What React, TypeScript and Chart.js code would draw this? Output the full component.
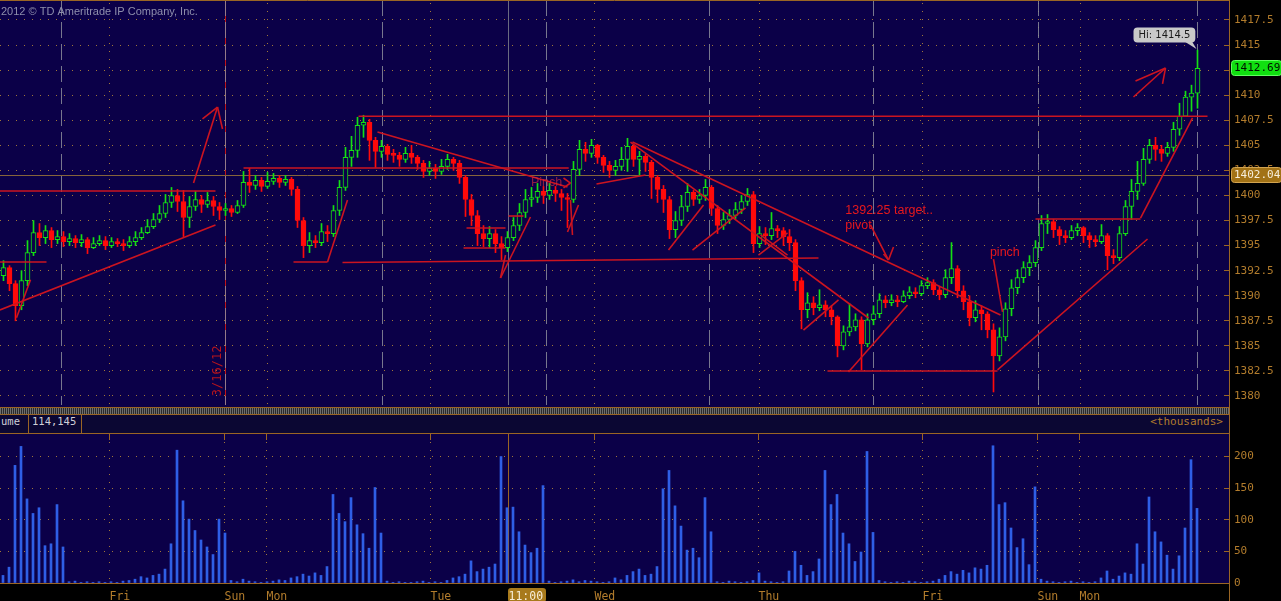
import { useEffect, useRef } from 'react';
import { Chart, registerables } from 'chart.js';

Chart.register(...registerables);

// ---------------- data ----------------
const FIRST_OPEN = 1392.0;

const closes = [
  1392.8, 1391.2, 1389.0, 1391.5, 1394.3, 1396.3, 1395.8, 1396.5, 1395.6, 1395.9,
  1395.4, 1395.7, 1395.3, 1395.6, 1394.8, 1395.2, 1395.5, 1395.0, 1395.4, 1395.2,
  1395.0, 1395.4, 1395.8, 1396.3, 1396.9, 1397.6, 1398.2, 1399.3, 1400.0, 1399.4,
  1397.8, 1398.9, 1399.6, 1399.1, 1399.5, 1398.9, 1398.5, 1398.7, 1398.3, 1399.0,
  1401.3, 1401.0, 1401.5, 1400.9, 1401.4, 1401.7, 1401.3, 1401.6, 1400.6, 1397.5,
  1395.0, 1395.5, 1395.3, 1396.4, 1396.2, 1398.5, 1400.8, 1403.8, 1404.5, 1407.0,
  1407.3, 1405.5, 1404.4, 1404.9, 1404.1, 1404.0, 1403.6, 1404.2, 1403.8, 1403.2,
  1402.4, 1402.7, 1402.4, 1402.9, 1403.6, 1403.2, 1401.8, 1399.6, 1398.0, 1396.2,
  1395.7, 1396.2, 1395.2, 1394.8, 1395.8, 1397.0, 1398.3, 1399.6, 1399.8, 1400.4,
  1400.0, 1400.5, 1400.2, 1399.8, 1399.6, 1402.6, 1404.6, 1404.2, 1405.0, 1403.8,
  1403.0, 1402.5, 1402.9, 1403.6, 1404.9, 1403.6, 1403.9, 1403.3, 1401.8, 1400.6,
  1399.6, 1396.6, 1397.5, 1398.9, 1400.3, 1399.6, 1400.0, 1400.8, 1398.7, 1397.0,
  1397.6, 1398.0, 1398.6, 1399.4, 1400.1, 1395.2, 1396.2, 1396.0, 1396.7, 1396.5,
  1395.9, 1395.3, 1391.5, 1388.6, 1389.3, 1388.8, 1389.1, 1388.6, 1387.9, 1385.0,
  1386.4, 1386.9, 1387.6, 1385.2, 1387.6, 1388.2, 1389.6, 1389.3, 1389.6, 1389.4,
  1390.0, 1390.4, 1390.2, 1391.0, 1391.3, 1390.6, 1390.1, 1391.8, 1392.7, 1390.5,
  1389.4, 1387.8, 1388.6, 1388.2, 1386.6, 1384.0, 1385.9, 1388.7, 1390.8, 1391.8,
  1392.8, 1393.3, 1394.8, 1397.2, 1397.4, 1396.6, 1396.0, 1395.8, 1396.5, 1396.8,
  1396.0, 1395.6, 1395.4, 1396.0, 1394.0, 1393.8, 1396.2, 1398.9, 1400.4, 1401.2,
  1403.6, 1405.0, 1404.6, 1404.2, 1404.8, 1406.6, 1407.9, 1409.8, 1410.2, 1412.69,
];

const highs = [
  1393.5, 1393.0, 1391.5, 1392.5, 1395.5, 1397.5, 1397.2, 1397.0, 1396.8, 1396.5,
  1396.4, 1396.2, 1396.0, 1396.1, 1395.8, 1395.8, 1396.0, 1395.9, 1395.8, 1395.7,
  1395.6, 1395.9, 1396.4, 1396.8, 1397.6, 1398.2, 1399.0, 1400.1, 1400.8, 1400.6,
  1400.5, 1399.9, 1400.4, 1400.0, 1400.3, 1399.9, 1399.3, 1399.2, 1399.0, 1399.5,
  1402.4, 1402.7, 1402.0, 1401.8, 1402.3, 1402.2, 1402.0, 1402.0, 1401.8, 1400.9,
  1397.8, 1396.3, 1396.0, 1397.2, 1397.0, 1399.0, 1401.5, 1404.8, 1405.9, 1407.8,
  1408.0, 1407.6, 1405.8, 1405.5, 1405.1, 1404.6, 1404.3, 1404.8, 1405.0, 1404.0,
  1403.5, 1403.4, 1403.1, 1403.6, 1404.1, 1403.8, 1403.5, 1402.0, 1400.1, 1398.5,
  1397.0, 1396.9, 1396.6, 1395.9, 1396.4, 1397.8, 1399.2, 1400.6, 1400.8, 1401.2,
  1400.9, 1401.2, 1400.9, 1400.6, 1400.2, 1403.4, 1405.5, 1405.3, 1405.6, 1405.1,
  1404.0, 1403.4, 1403.5, 1404.8, 1405.7, 1405.0, 1404.4, 1404.1, 1403.5, 1402.0,
  1401.0, 1399.9, 1398.4, 1400.0, 1401.2, 1400.5, 1400.6, 1401.6, 1401.0, 1399.0,
  1398.3, 1398.6, 1399.3, 1400.0, 1400.7, 1400.4, 1396.9, 1396.8, 1398.3, 1397.0,
  1396.8, 1396.6, 1395.6, 1391.8, 1390.3, 1389.9, 1390.6, 1389.5, 1389.0, 1388.0,
  1387.0, 1389.2, 1388.2, 1387.9, 1388.2, 1389.0, 1390.2, 1390.0, 1390.1, 1390.0,
  1390.5, 1390.9, 1390.8, 1391.5, 1391.8, 1391.6, 1390.9, 1392.6, 1395.3, 1393.0,
  1391.0, 1390.0, 1389.5, 1389.0, 1388.4, 1387.2, 1386.8, 1389.3, 1391.6, 1392.6,
  1393.4, 1394.0, 1395.5, 1398.0, 1398.1, 1397.6, 1396.9, 1396.5, 1397.0, 1397.2,
  1396.9, 1396.3, 1396.0, 1397.1, 1396.2, 1394.6, 1396.9, 1399.5, 1401.6, 1403.4,
  1404.7, 1405.6, 1405.8, 1405.0, 1405.3, 1407.3, 1409.2, 1410.4, 1411.0, 1414.5,
];

const lows = [
  1391.5, 1390.5, 1387.5, 1388.6, 1391.0, 1394.0, 1395.0, 1395.2, 1394.8, 1395.2,
  1394.9, 1395.0, 1394.8, 1394.9, 1394.2, 1394.7, 1395.0, 1394.6, 1394.8, 1394.9,
  1394.5, 1394.8, 1395.0, 1395.6, 1396.2, 1396.7, 1397.3, 1397.8, 1398.8, 1398.4,
  1395.9, 1396.8, 1398.5, 1398.3, 1398.8, 1398.0, 1397.6, 1398.0, 1397.9, 1398.2,
  1398.8, 1400.3, 1400.6, 1400.4, 1400.7, 1401.1, 1400.8, 1401.0, 1400.0, 1396.8,
  1393.8, 1394.3, 1394.8, 1395.0, 1395.4, 1395.9, 1398.0, 1400.5, 1402.9, 1403.8,
  1405.8, 1403.5, 1402.8, 1403.8, 1403.5, 1403.3, 1402.9, 1403.3, 1403.2, 1402.6,
  1401.8, 1402.0, 1401.7, 1402.1, 1402.6, 1402.5, 1401.2, 1397.9, 1397.0, 1395.0,
  1394.9, 1394.8, 1394.3, 1393.6, 1394.4, 1395.5, 1396.5, 1397.8, 1398.9, 1399.3,
  1399.2, 1399.6, 1399.4, 1398.5, 1396.8, 1399.3, 1402.0, 1403.4, 1403.8, 1403.2,
  1402.3, 1401.8, 1402.0, 1402.5, 1402.4, 1402.9, 1402.0, 1402.4, 1399.7, 1399.3,
  1398.3, 1395.7, 1395.8, 1397.0, 1398.4, 1399.0, 1399.2, 1399.5, 1398.0, 1396.2,
  1396.6, 1397.2, 1397.7, 1398.2, 1399.0, 1394.3, 1394.8, 1395.1, 1395.6, 1395.8,
  1395.0, 1394.5, 1390.5, 1386.7, 1387.8, 1388.1, 1388.5, 1387.9, 1387.1, 1383.9,
  1384.6, 1386.0, 1386.5, 1382.6, 1384.9, 1387.1, 1387.8, 1388.8, 1389.0, 1388.9,
  1389.3, 1389.7, 1389.8, 1390.0, 1390.7, 1390.1, 1389.6, 1389.8, 1391.2, 1389.8,
  1388.6, 1387.0, 1387.4, 1386.6, 1385.8, 1380.4, 1383.5, 1385.5, 1388.0, 1390.2,
  1391.3, 1392.0, 1392.9, 1394.5, 1396.2, 1395.8, 1395.1, 1395.3, 1395.6, 1396.0,
  1395.3, 1394.8, 1394.9, 1395.2, 1392.6, 1393.2, 1393.5, 1396.0, 1397.6, 1399.6,
  1401.0, 1403.2, 1403.5, 1403.4, 1403.9, 1404.4, 1406.0, 1407.9, 1408.4, 1408.7,
];

// volume in thousands
const volumes = [
  12, 25, 186, 216, 133, 110, 119, 59, 62, 124,
  57, 2, 3, 1, 2, 1, 2, 1, 2, 1,
  3, 4, 6, 10, 8, 12, 14, 22, 62, 210,
  130, 101, 83, 68, 57, 45, 101, 79, 4, 2,
  6, 3, 2, 1, 2, 3, 5, 4, 8, 10,
  14, 11, 16, 12, 26, 140, 110, 97, 135, 92,
  78, 55, 151, 79, 3, 1, 2, 1, 1, 2,
  3, 1, 2, 1, 4, 8, 10, 14, 35, 18,
  22, 25, 30, 200, 119, 120, 81, 60, 48, 55,
  154, 3, 1, 2, 3, 5, 2, 4, 3, 2,
  1, 2, 8, 5, 12, 18, 22, 12, 14, 26,
  149, 178, 122, 90, 52, 55, 40, 135, 81, 2,
  1, 3, 2, 1, 2, 4, 16, 3, 2, 1,
  2, 19, 50, 28, 12, 18, 38, 178, 124, 140,
  79, 62, 34, 49, 208, 80, 4, 2, 1, 2,
  1, 3, 2, 1, 2, 3, 6, 12, 18, 14,
  20, 16, 24, 22, 28, 217, 124, 127, 87, 56,
  70, 29, 152, 6, 3, 2, 1, 2, 3, 1,
  2, 1, 2, 8, 19, 6, 11, 16, 14, 62,
  30, 136, 81, 65, 44, 22, 43, 87, 195, 118,
];

const priceTicks = [1380, 1382.5, 1385, 1387.5, 1390, 1392.5, 1395, 1397.5, 1400, 1402.5, 1405, 1407.5, 1410, 1412.5, 1415, 1417.5];
const volumeTicks = [0, 50, 100, 150, 200];

// time axis (positions in bar-index units)
const timeTickPos = [17.75, 36.92, 43.92, 71.25, 84.25, 98.58, 125.92, 153.25, 172.42, 179.42];
const timeTickLabels = ['Fri', 'Sun', 'Mon', 'Tue', '11:00', 'Wed', 'Thu', 'Fri', 'Sun', 'Mon'];
const CURSOR_LABEL = '11:00';
const sessionBreaks = [9.75, 36.92, 63.25, 90.42, 117.75, 145.08, 172.42, 198.92];
const DATE_MARK = 36.92;
const DATE_MARK_LABEL = '3/16/12';
const DATE_LABEL_POS = [35.7, 1382.5];

const LAST_PRICE = 1412.69;
const LEVEL_PRICE = 1402.04;
const HIGH_PRICE = 1414.5;
const VOLUME_LAST = '114,145';
const COPYRIGHT = '2012 © TD Ameritrade IP Company, Inc.';

// hand-drawn trend lines: [x1, price1, x2, price2]
const trendLines = [
  [-0.6, 1400.45, 35.33, 1400.45],
  [-0.6, 1393.37, 7.17, 1393.37],
  [-0.6, 1388.58, 35.33, 1397.06],
  [2.17, 1387.8, 4.5, 1391.6],
  [31.67, 1401.24, 35.67, 1408.82],
  [35.67, 1408.82, 33.17, 1407.63],
  [35.67, 1408.82, 36.5, 1406.63],
  [40, 1402.74, 94.2, 1402.74],
  [48.33, 1393.37, 54, 1393.37],
  [54, 1393.37, 57.33, 1399.55],
  [56.5, 1393.32, 135.83, 1393.76],
  [59.17, 1407.9, 200.67, 1407.9],
  [62.33, 1406.33, 94, 1400.85],
  [93.33, 1401.74, 94.5, 1401.24],
  [94.5, 1401.24, 93.33, 1400.75],
  [94, 1396.36, 95.83, 1399.05],
  [94.5, 1399.55, 94.83, 1396.06],
  [82.83, 1391.77, 87.83, 1397.85],
  [82.83, 1391.77, 83.67, 1394.06],
  [76.67, 1394.76, 83.67, 1394.76],
  [77.17, 1396.76, 83.67, 1396.76],
  [84.17, 1397.95, 86.67, 1397.95],
  [98.83, 1401.14, 107, 1402.04],
  [104.83, 1405.33, 166.17, 1388.08],
  [104.5, 1405.33, 144.17, 1387.78],
  [110.83, 1394.56, 116.67, 1399.05],
  [114.83, 1394.56, 123.67, 1398.75],
  [125.83, 1394.06, 130.67, 1396.26],
  [126.17, 1396.06, 130.67, 1394.06],
  [144.5, 1397.06, 147.5, 1393.56],
  [147.5, 1393.56, 148.33, 1394.86],
  [147.5, 1393.56, 146.67, 1394.16],
  [133.33, 1386.58, 139.17, 1389.58],
  [140.83, 1382.4, 150.67, 1389.08],
  [137.33, 1382.5, 165.67, 1382.5],
  [165.67, 1382.6, 190.67, 1395.66],
  [165, 1393.66, 166.5, 1388.38],
  [172, 1397.65, 189.5, 1397.65],
  [189.5, 1397.75, 198.17, 1407.73],
  [188.33, 1409.82, 193.67, 1412.71],
  [193.67, 1412.71, 188.67, 1411.42],
  [193.67, 1412.71, 193.17, 1411.12],
];

const notes = [
  { text: 'Pinch', x: 87.9, y: 1401.3, color: 'rgba(215,45,65,0.65)' },
  { text: '1392.25 target..', x: 140.3, y: 1398.45, color: '#e8181c' },
  { text: 'pivot', x: 140.3, y: 1396.95, color: '#e8181c' },
  { text: 'pinch', x: 164.4, y: 1394.3, color: '#e8181c' },
];

// ---------------- styling ----------------
const NAVY = '#0b0048';
const PANEL_LINE = '#9a6524';
const GRID_DOT = '#a0763a';
const AXIS_TEXT = '#b27c2c';
const UP = '#14e014';
const DOWN = '#ff0a0a';
const TREND = '#cc1420';
const VOL = '#2f5fe6';
const X_MIN = -0.5833;
const X_MAX = 204.25;
const VOL_X_MIN = -0.5;
const VOL_X_MAX = 204.3333;
const PRICE_MIN = 1379.102;
const PRICE_MAX = 1419.195;
const VOL_MAX = 235.6;
const MONO = "'DejaVu Sans Mono', monospace";
const SANS = "'Liberation Sans', Arial, sans-serif";
const DSANS = "'DejaVu Sans', sans-serif";

const opens = closes.map((c, i) => (i === 0 ? FIRST_OPEN : closes[i - 1]));
const rising = closes.map((c, i) => c >= opens[i]);

const cx = (v: number) => Math.floor(v) + 0.5;

function seg(ctx: CanvasRenderingContext2D, x1: number, y1: number, x2: number, y2: number) {
  ctx.beginPath();
  ctx.moveTo(x1, y1);
  ctx.lineTo(x2, y2);
  ctx.stroke();
}

function roundRect(ctx: CanvasRenderingContext2D, x: number, y: number, w: number, h: number, r: number) {
  ctx.beginPath();
  ctx.moveTo(x + r, y);
  ctx.lineTo(x + w - r, y);
  ctx.quadraticCurveTo(x + w, y, x + w, y + r);
  ctx.lineTo(x + w, y + h - r);
  ctx.quadraticCurveTo(x + w, y + h, x + w - r, y + h);
  ctx.lineTo(x + r, y + h);
  ctx.quadraticCurveTo(x, y + h, x, y + h - r);
  ctx.lineTo(x, y + r);
  ctx.quadraticCurveTo(x, y, x + r, y);
  ctx.closePath();
}

const pricePanel = {
  id: 'pricePanel',
  beforeDraw(chart: any) {
    const { ctx, chartArea: a, width, height } = chart;
    ctx.save();
    ctx.fillStyle = '#000';
    ctx.fillRect(0, 0, width, height);
    ctx.fillStyle = NAVY;
    ctx.fillRect(0, 0, a.right, height);
    ctx.restore();
  },
  beforeDatasetsDraw(chart: any) {
    const { ctx, chartArea: a, scales } = chart;
    const x = scales.x;
    const y = scales.y;
    ctx.save();
    ctx.lineWidth = 1;
    ctx.strokeStyle = GRID_DOT;
    ctx.setLineDash([1, 7]);
    timeTickPos.forEach((p, i) => {
      if (timeTickLabels[i] === CURSOR_LABEL) return;
      const px = cx(x.getPixelForValue(p));
      seg(ctx, px, a.top, px, a.bottom);
    });
    ctx.setLineDash([]);
    ctx.strokeStyle = '#c0141a';
    const dm = cx(x.getPixelForValue(DATE_MARK));
    seg(ctx, dm, 0, dm, a.bottom);
    ctx.setLineDash([16, 6]);
    ctx.strokeStyle = 'rgba(140,140,155,0.85)';
    sessionBreaks.forEach((p) => {
      const px = cx(x.getPixelForValue(p));
      seg(ctx, px, 0, px, a.bottom);
    });
    ctx.setLineDash([]);
    ctx.strokeStyle = '#6a6a80';
    const cp = cx(x.getPixelForValue(timeTickPos[timeTickLabels.indexOf(CURSOR_LABEL)]));
    seg(ctx, cp, 0, cp, a.bottom);
    ctx.strokeStyle = '#86643a';
    const ly = cx(y.getPixelForValue(LEVEL_PRICE));
    seg(ctx, 0, ly, a.right, ly);
    ctx.restore();
  },
  afterDatasetsDraw(chart: any) {
    const { ctx, scales } = chart;
    const x = scales.x;
    const y = scales.y;
    ctx.save();
    ctx.textBaseline = 'middle';
    ctx.textAlign = 'left';
    ctx.font = `12.5px ${SANS}`;
    notes.forEach((n) => {
      ctx.fillStyle = n.color;
      ctx.fillText(n.text, x.getPixelForValue(n.x), y.getPixelForValue(n.y));
    });
    ctx.save();
    ctx.translate(x.getPixelForValue(DATE_LABEL_POS[0]), y.getPixelForValue(DATE_LABEL_POS[1]));
    ctx.rotate(-Math.PI / 2);
    ctx.textAlign = 'center';
    ctx.fillStyle = '#b8141c';
    ctx.font = `12px ${MONO}`;
    ctx.fillText(DATE_MARK_LABEL, 0, 0);
    ctx.restore();
    ctx.restore();
  },
  afterDraw(chart: any) {
    const { ctx, chartArea: a, scales, width } = chart;
    const x = scales.x;
    const y = scales.y;
    ctx.save();
    ctx.strokeStyle = PANEL_LINE;
    ctx.lineWidth = 1;
    seg(ctx, 0, 0.5, a.right, 0.5);
    seg(ctx, a.right + 0.5, 0, a.right + 0.5, chart.height);
    priceTicks.forEach((t) => {
      const py = cx(y.getPixelForValue(t));
      seg(ctx, a.right - 5, py, a.right, py);
    });
    ctx.font = `11px ${SANS}`;
    ctx.fillStyle = '#8e8eac';
    ctx.textBaseline = 'middle';
    ctx.textAlign = 'left';
    ctx.fillText(COPYRIGHT, 1, 12);

    const box = (price: number, bg: string, fg: string, edge: string) => {
      const py = Math.round(y.getPixelForValue(price));
      ctx.fillStyle = bg;
      roundRect(ctx, a.right + 2.5, py - 7.5, width - a.right - 2, 15, 3);
      ctx.fill();
      ctx.strokeStyle = edge;
      ctx.stroke();
      ctx.fillStyle = fg;
      ctx.font = `11px ${MONO}`;
      ctx.textAlign = 'left';
      ctx.textBaseline = 'middle';
      ctx.fillText(price.toFixed(2), a.right + 5, py + 0.5);
    };
    box(LEVEL_PRICE, '#a27216', '#f6eedc', '#d2a450');
    box(LAST_PRICE, '#10e010', '#001000', '#60ff60');

    const hx = x.getPixelForValue(closes.length - 1);
    const hy = y.getPixelForValue(HIGH_PRICE);
    const label = `Hi: ${HIGH_PRICE}`;
    ctx.font = `10px ${DSANS}`;
    const tw = ctx.measureText(label).width;
    const bw = tw + 10;
    const bh = 15;
    const bx = Math.round(hx - 3 - bw) + 0.5;
    const by = Math.round(hy - 8 - bh) + 0.5;
    ctx.fillStyle = '#c9c9c9';
    roundRect(ctx, bx, by, bw, bh, 4);
    ctx.fill();
    ctx.beginPath();
    ctx.moveTo(bx + bw - 10, by + bh - 0.5);
    ctx.lineTo(bx + bw - 3, by + bh - 0.5);
    ctx.lineTo(hx - 1, hy - 1);
    ctx.closePath();
    ctx.fill();
    ctx.fillStyle = '#1a1a1a';
    ctx.textAlign = 'left';
    ctx.textBaseline = 'middle';
    ctx.fillText(label, bx + 5, by + bh / 2 + 0.5);
    ctx.restore();
  },
};

const volumePanel = {
  id: 'volumePanel',
  beforeDraw(chart: any) {
    const { ctx, chartArea: a, width, height, scales } = chart;
    ctx.save();
    ctx.fillStyle = '#000';
    ctx.fillRect(0, 0, width, height);
    ctx.fillStyle = NAVY;
    ctx.fillRect(0, 0, a.right, a.bottom);
    const i = timeTickLabels.indexOf(CURSOR_LABEL);
    const px = Math.round(scales.x.getPixelForValue(timeTickPos[i]));
    ctx.fillStyle = '#a87a1c';
    roundRect(ctx, px - 1, a.bottom + 5, 38, height - a.bottom - 4, 3);
    ctx.fill();
    ctx.restore();
  },
  beforeDatasetsDraw(chart: any) {
    const { ctx, chartArea: a, scales } = chart;
    const x = scales.x;
    ctx.save();
    ctx.lineWidth = 1;
    timeTickPos.forEach((p, i) => {
      const px = cx(x.getPixelForValue(p));
      if (timeTickLabels[i] === CURSOR_LABEL) {
        ctx.setLineDash([]);
        ctx.strokeStyle = PANEL_LINE;
        seg(ctx, px, a.top, px, a.bottom);
      } else {
        ctx.setLineDash([1, 7]);
        ctx.strokeStyle = GRID_DOT;
        seg(ctx, px, a.top, px, a.bottom);
        ctx.setLineDash([]);
        ctx.strokeStyle = PANEL_LINE;
        seg(ctx, px, a.top, px, a.top + 6);
      }
    });
    ctx.restore();
  },
  afterDraw(chart: any) {
    const { ctx, chartArea: a, scales } = chart;
    const y = scales.y;
    ctx.save();
    ctx.strokeStyle = PANEL_LINE;
    ctx.lineWidth = 1;
    seg(ctx, a.right + 0.5, 0, a.right + 0.5, chart.height);
    seg(ctx, 0, a.bottom + 0.5, a.right, a.bottom + 0.5);
    volumeTicks.forEach((t) => {
      const py = cx(y.getPixelForValue(t));
      seg(ctx, a.right - 5, py, a.right, py);
    });
    ctx.restore();
  },
};

export default function App() {
  const priceRef = useRef<HTMLCanvasElement>(null);
  const volRef = useRef<HTMLCanvasElement>(null);

  useEffect(() => {
    Chart.defaults.font.family = MONO;
    Chart.defaults.font.size = 11;

    const priceChart = new Chart(priceRef.current as HTMLCanvasElement, {
      type: 'bar',
      data: {
        datasets: [
          ...trendLines.map(([x1, y1, x2, y2]) => ({
            type: 'line' as const,
            data: [{ x: x1, y: y1 }, { x: x2, y: y2 }],
            borderColor: TREND,
            borderWidth: 1.6,
            pointRadius: 0,
            pointHoverRadius: 0,
            fill: false,
            tension: 0,
            order: 0,
          })),
          {
            type: 'bar' as const,
            label: 'Body',
            data: closes.map((c, i) => ({ x: i, y: [opens[i], c] })),
            backgroundColor: rising.map((r) => (r ? NAVY : DOWN)),
            borderColor: rising.map((r) => (r ? UP : DOWN)),
            borderWidth: 1,
            borderSkipped: false,
            barPercentage: 1,
            categoryPercentage: 1,
            maxBarThickness: 5,
            minBarLength: 2,
            grouped: false,
            order: 1,
          },
          {
            type: 'bar' as const,
            label: 'Wick',
            data: closes.map((c, i) => ({ x: i, y: [lows[i], highs[i]] })),
            backgroundColor: rising.map((r) => (r ? UP : DOWN)),
            borderWidth: 0,
            barPercentage: 1,
            categoryPercentage: 1,
            maxBarThickness: 1,
            grouped: false,
            order: 2,
          },
        ] as any,
      },
      options: {
        responsive: false,
        animation: false,
        events: [],
        layout: { padding: { top: 3, bottom: 2, left: 0, right: 0 } },
        plugins: { legend: { display: false }, tooltip: { enabled: false } },
        scales: {
          x: { type: 'linear', min: X_MIN, max: X_MAX, offset: false, bounds: 'data', display: false },
          y: {
            type: 'linear',
            position: 'right',
            min: PRICE_MIN,
            max: PRICE_MAX,
            bounds: 'data',
            afterBuildTicks: (s: any) => {
              s.ticks = priceTicks.map((v) => ({ value: v }));
            },
            afterFit: (s: any) => {
              s.width = 52;
              s.paddingTop = 0;
              s.paddingBottom = 0;
            },
            ticks: {
              color: AXIS_TEXT,
              font: { family: MONO, size: 11 },
              padding: 5,
              callback: (v: any) => String(v),
            },
            grid: { color: GRID_DOT, lineWidth: 1, drawTicks: false },
            border: { display: true, color: PANEL_LINE, width: 1, dash: [1, 7] },
          },
        },
      } as any,
      plugins: [pricePanel],
    });

    const volumeChart = new Chart(volRef.current as HTMLCanvasElement, {
      type: 'bar',
      data: {
        datasets: [
          {
            label: 'Volume',
            data: volumes.map((v, i) => ({ x: i, y: v })),
            backgroundColor: VOL,
            borderWidth: 0,
            barPercentage: 1,
            categoryPercentage: 1,
            maxBarThickness: 2,
            grouped: false,
          },
        ] as any,
      },
      options: {
        responsive: false,
        animation: false,
        events: [],
        layout: { padding: 0 },
        plugins: { legend: { display: false }, tooltip: { enabled: false } },
        scales: {
          x: {
            type: 'linear',
            min: VOL_X_MIN,
            max: VOL_X_MAX,
            offset: false,
            bounds: 'data',
            position: 'bottom',
            afterBuildTicks: (s: any) => {
              s.ticks = timeTickPos.map((v) => ({ value: v }));
            },
            afterFit: (s: any) => {
              s.height = 18;
              s.paddingLeft = 0;
              s.paddingRight = 0;
            },
            ticks: {
              align: 'start',
              autoSkip: false,
              maxRotation: 0,
              minRotation: 0,
              padding: 7,
              labelOffset: 0,
              font: { family: MONO, size: 11.5 },
              color: (c: any) => (timeTickLabels[c.index] === CURSOR_LABEL ? '#f6ecd6' : AXIS_TEXT),
              callback: (_v: any, i: number) => timeTickLabels[i],
            },
            grid: { display: false, drawTicks: false },
            border: { display: false },
          },
          y: {
            type: 'linear',
            position: 'right',
            min: 0,
            max: VOL_MAX,
            bounds: 'data',
            afterBuildTicks: (s: any) => {
              s.ticks = volumeTicks.map((v) => ({ value: v }));
            },
            afterFit: (s: any) => {
              s.width = 52;
              s.paddingTop = 0;
              s.paddingBottom = 0;
            },
            ticks: {
              color: AXIS_TEXT,
              font: { family: MONO, size: 11 },
              padding: 5,
              callback: (v: any) => String(v),
            },
            grid: { color: GRID_DOT, lineWidth: 1, drawTicks: false },
            border: { display: true, color: PANEL_LINE, width: 1, dash: [1, 7] },
          },
        },
      } as any,
      plugins: [volumePanel],
    });

    return () => {
      priceChart.destroy();
      volumeChart.destroy();
    };
  }, []);

  const abs = (s: any) => ({ position: 'absolute' as const, ...s });
  const headerText = {
    top: 415,
    height: 18,
    lineHeight: '18px',
    font: `10.5px ${MONO}`,
    color: '#cfcfd8',
    whiteSpace: 'nowrap',
  };

  return (
    <div style={{ position: 'fixed', left: 0, top: 0, width: 1281, height: 601, background: '#000', overflow: 'hidden' }}>
      <canvas ref={priceRef} width={1281} height={407} style={abs({ left: 0, top: 0 })} />
      <div style={abs({ left: 0, top: 407, width: 1229, height: 1, background: PANEL_LINE })} />
      <div
        style={abs({
          left: 0,
          top: 408,
          width: 1229,
          height: 6,
          background: 'repeating-linear-gradient(90deg, #6e6e6e 0px, #6e6e6e 1px, #2a2a2a 1px, #2a2a2a 2px)',
        })}
      />
      <div style={abs({ left: 0, top: 414, width: 1229, height: 1, background: PANEL_LINE })} />
      <div style={abs({ left: 0, top: 415, width: 1229, height: 18, background: '#0b0733' })} />
      <div style={abs({ left: 1, ...headerText })}>ume</div>
      <div style={abs({ left: 28, top: 415, width: 1, height: 18, background: PANEL_LINE })} />
      <div style={abs({ left: 32, ...headerText })}>{VOLUME_LAST}</div>
      <div style={abs({ left: 81, top: 415, width: 1, height: 18, background: PANEL_LINE })} />
      <div style={abs({ right: 58, ...headerText, font: `11px ${MONO}`, color: AXIS_TEXT })}>{'<thousands>'}</div>
      <div style={abs({ left: 0, top: 433, width: 1229, height: 1, background: PANEL_LINE })} />
      <div style={abs({ left: 1229, top: 406, width: 1, height: 28, background: PANEL_LINE })} />
      <canvas ref={volRef} width={1281} height={167} style={abs({ left: 0, top: 434 })} />
    </div>
  );
}
